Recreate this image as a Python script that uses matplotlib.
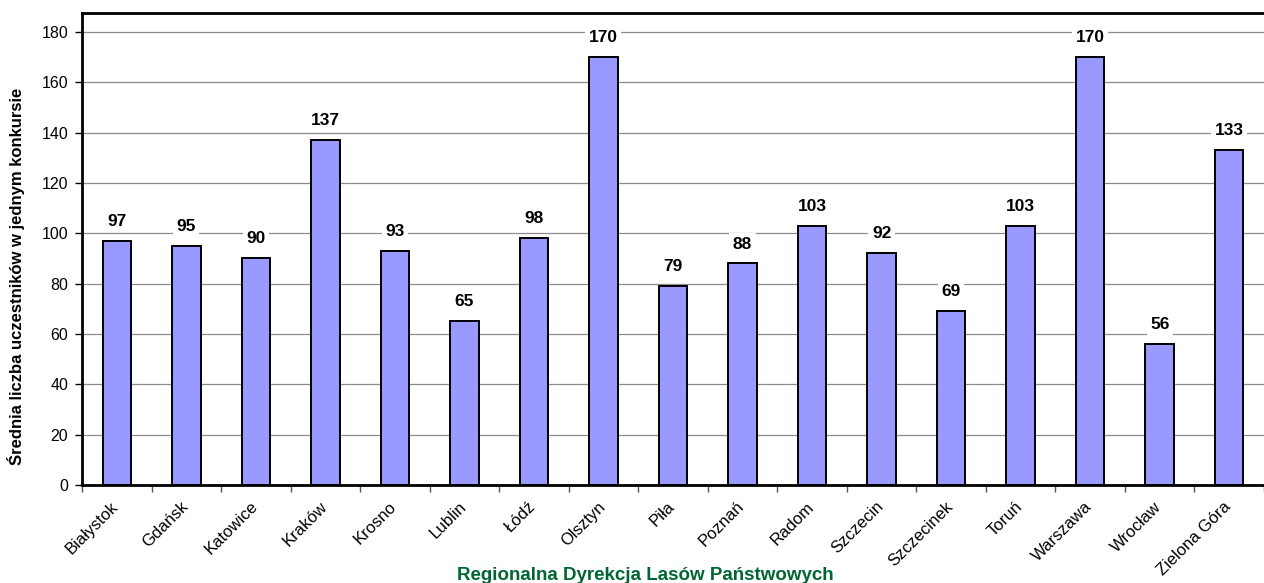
"""Srednia liczba uczestnikow w jednym konkursie wg RDLP."""

import matplotlib

matplotlib.use("Agg")
import matplotlib.pyplot as plt
import matplotlib.transforms as mtransforms
import numpy as np

plt.rcParams["font.family"] = ["Liberation Sans", "DejaVu Sans"]

regions = [
    "Białystok", "Gdańsk", "Katowice", "Kraków", "Krosno", "Lublin", "Łódź",
    "Olsztyn", "Piła", "Poznań", "Radom", "Szczecin", "Szczecinek", "Toruń",
    "Warszawa", "Wrocław", "Zielona Góra",
]
participants = [97, 95, 90, 137, 93, 65, 98, 170, 79, 88, 103, 92, 69, 103, 170, 56, 133]
y_ticks = [0, 20, 40, 60, 80, 100, 120, 140, 160, 180]

W, H = 1264, 583
fig = plt.figure(figsize=(W / 100, H / 100), dpi=100)
ax = fig.add_axes([82 / W, 1 - 485 / H, 1 - 82 / W, (485 - 13) / H])

x = np.arange(len(regions))
ax.bar(x, participants, width=0.41, color="#9999FF", edgecolor="black",
       linewidth=1.4, zorder=3)

for xi, value in zip(x, participants):
    ax.annotate(str(value), (xi, value), xytext=(0, 14), textcoords="offset points",
                ha="center", va="center", fontsize=12.5, fontweight="bold", zorder=4,
                bbox=dict(boxstyle="square,pad=0.2", facecolor="white", edgecolor="none"))

ax.set_xlim(-0.5, len(regions) - 0.5)
ax.set_ylim(0, 187.5)
ax.set_yticks(y_ticks)
ax.yaxis.grid(True, color="#8c8c8c", linewidth=0.9, zorder=0)

ax.set_xticks(x)
ax.set_xticklabels(regions, rotation=45, ha="right", rotation_mode="anchor", fontsize=12)
ax.tick_params(axis="x", length=0, pad=10)
shift = mtransforms.ScaledTranslation(-6 / 100, 0, fig.dpi_scale_trans)
for label in ax.get_xticklabels():
    label.set_transform(label.get_transform() + shift)
ax.set_xticks(np.arange(len(regions) + 1) - 0.5, minor=True)
ax.tick_params(axis="x", which="minor", length=5, width=1, direction="out", color="#555555")
ax.tick_params(axis="y", length=5, width=1, direction="out", labelsize=11.5, pad=5)

for side in ("left", "bottom", "top"):
    ax.spines[side].set_linewidth(2)
ax.spines["right"].set_visible(False)

fig.text(16 / W, 1 - 276 / H, "Średnia liczba uczestników w jednym konkursie",
         rotation=90, ha="center", va="center", fontsize=12, fontweight="bold")
fig.text(645 / W, 1 - 575 / H, "Regionalna Dyrekcja Lasów Państwowych",
         ha="center", va="center", fontsize=13.5, fontweight="bold", color="#006633")
fig.text(120 / W, 1 + 8 / H, "(średnia ogółem)", ha="left", va="center",
         fontsize=14, fontweight="bold")

fig.savefig("out.png", dpi=100)
